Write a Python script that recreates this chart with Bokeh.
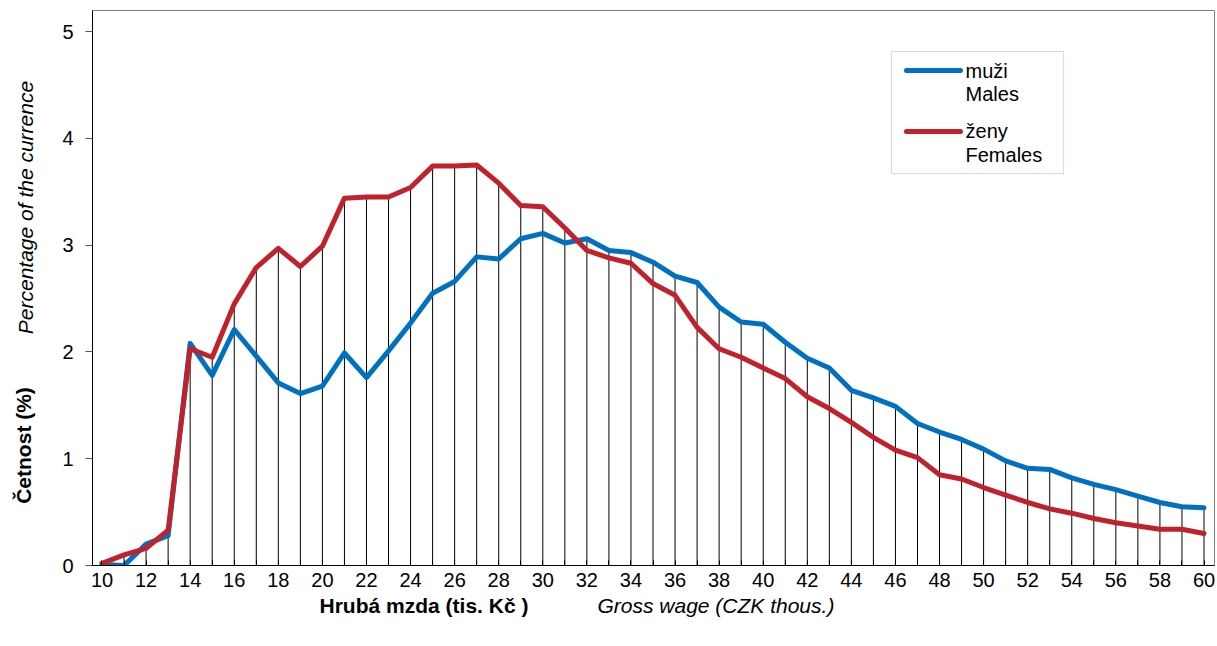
import math
from bokeh.plotting import figure
from bokeh.models import FixedTicker, BoxAnnotation, Range1d
from bokeh.core.properties import value
from bokeh.embed import file_html
from bokeh.resources import INLINE

# ---- data ----
wage = list(range(10, 61))
males = [0.01, 0.00, 0.20, 0.28, 2.08, 1.78, 2.21, 1.96, 1.71, 1.61,
         1.68, 1.99, 1.76, 2.01, 2.27, 2.55, 2.66, 2.89, 2.87, 3.06,
         3.11, 3.02, 3.06, 2.95, 2.93, 2.84, 2.71, 2.65, 2.42, 2.28,
         2.26, 2.09, 1.94, 1.85, 1.64, 1.57, 1.49, 1.33, 1.25, 1.18,
         1.09, 0.98, 0.91, 0.90, 0.82, 0.76, 0.71, 0.65, 0.59, 0.55,
         0.54]
females = [0.02, 0.10, 0.16, 0.33, 2.03, 1.95, 2.45, 2.79, 2.97, 2.80,
           2.99, 3.44, 3.45, 3.45, 3.54, 3.74, 3.74, 3.75, 3.58, 3.37,
           3.36, 3.16, 2.95, 2.88, 2.83, 2.64, 2.53, 2.23, 2.03, 1.95,
           1.85, 1.75, 1.58, 1.47, 1.34, 1.20, 1.08, 1.01, 0.85, 0.81,
           0.73, 0.66, 0.59, 0.53, 0.49, 0.44, 0.40, 0.37, 0.34, 0.34,
           0.30]
x_tick_labels = list(range(10, 61, 2))
y_ticks = [0, 1, 2, 3, 4, 5]
series_names = ["muži\nMales", "ženy\nFemales"]

BLUE = "#0070C0"
RED = "#C0212B"
FONT = "Liberation Sans"

p = figure(width=1215, height=640, output_backend="svg", toolbar_location=None,
           x_range=Range1d(9.569, 60.476), y_range=Range1d(0, 5.197),
           min_border_left=92, min_border_right=1, min_border_top=10,
           min_border_bottom=75)
p.background_fill_color = "white"
p.border_fill_color = "white"
p.outline_line_color = "#808080"
p.outline_line_width = 1
p.xgrid.visible = False
p.ygrid.visible = False

# drop lines
tops = [max(a, b) for a, b in zip(males, females)]
p.segment(x0=wage, y0=[0] * len(wage), x1=wage, y1=tops, line_color="black",
          line_width=1)

p.line(wage, males, line_color=BLUE, line_width=5, line_join="round", line_cap="round")
p.line(wage, females, line_color=RED, line_width=5, line_join="round", line_cap="round")

# axes
xa = p.xaxis[0]
xa.ticker = FixedTicker(ticks=x_tick_labels, minor_ticks=[w for w in wage if w % 2])
xa.major_tick_in = 5
xa.major_tick_out = 0
xa.minor_tick_in = 5
xa.minor_tick_out = 0
xa.axis_line_color = "black"
xa.major_tick_line_color = "black"
xa.minor_tick_line_color = "black"
xa.major_label_text_font = FONT
xa.major_label_text_font_size = "20px"
xa.major_label_text_color = "black"
xa.major_label_standoff = 7

ya = p.yaxis[0]
ya.ticker = FixedTicker(ticks=y_ticks, minor_ticks=[])
ya.major_tick_in = 0
ya.major_tick_out = 7
ya.axis_line_color = "black"
ya.major_tick_line_color = "#555555"
ya.major_label_text_font = FONT
ya.major_label_text_font_size = "20px"
ya.major_label_text_color = "black"
ya.major_label_standoff = 12


def txt(xs, ys, texts, size, style="normal", angle=0.0, align="left", level="glyph"):
    p.text(x=xs, y=ys, text=texts, angle=angle, text_font=value(FONT),
           text_font_size=value(size), text_font_style=style, text_align=align,
           text_baseline="middle", text_color="black", level=level)


# axis titles (data coordinates, outside the frame)
txt([6.53], [3.352], ["Percentage of the currence"], "21px", "italic", math.pi / 2, "center", "overlay")
txt([6.44], [1.124], ["Četnost (%)"], "21px", "bold", math.pi / 2, "center", "overlay")
txt([19.87], [-0.375], ["Hrubá mzda (tis. Kč )"], "21px", "bold", 0.0, "left", "overlay")
txt([32.48], [-0.375], ["Gross wage (CZK thous.)"], "21px", "italic", 0.0, "left", "overlay")

# legend (manual, two-line labels)
p.add_layout(BoxAnnotation(left=45.82, right=53.63, bottom=3.670, top=4.813,
                           fill_color="white", fill_alpha=1.0,
                           line_color="#808080", line_width=1, level="underlay"))
leg_y = [4.635, 4.064]
tx, ty, tt = [], [], []
for name, col, yy in zip(series_names, [BLUE, RED], leg_y):
    p.line([46.50, 48.95], [yy, yy], line_color=col, line_width=5, line_cap="round")
    first, second = name.split("\n")
    tx += [49.18, 49.18]
    ty += [yy, yy - 0.216]
    tt += [first, second]
txt(tx, ty, tt, "20px")

open("out.html", "w").write(file_html(p, INLINE))
